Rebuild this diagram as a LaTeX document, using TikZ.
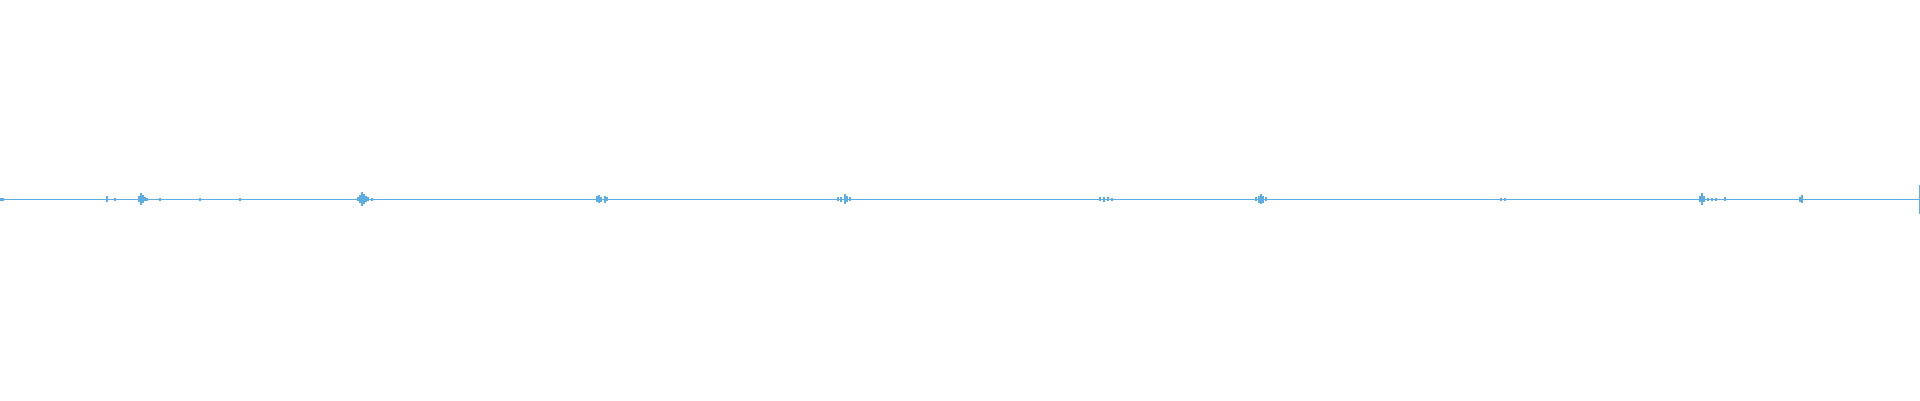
\documentclass[tikz,border=0pt]{standalone}
\definecolor{wave}{HTML}{5DADE2}
\begin{document}
\begin{tikzpicture}[x=1pt,y=-1pt,wv/.style={draw=wave,line width=1.1pt}]
\useasboundingbox (0,0) rectangle (1920,400);
\draw[wv,line width=1pt] (0,199) -- (1919,199);
\fill[wave] (0,197.5) rectangle (4,200.5);
% bursts: x / half height
\foreach \x/\h in {107/3, 115/1.5, 139/3, 141/6, 143/4, 145/2, 147/1.5, 160/1.5, 200/1.5, 240/1.5,
  358/2, 360/4, 362/7, 364/5, 366/3, 368/2, 372/1.5,
  597/3, 599/4, 601/2.5, 605/3.5, 607/2,
  838/2, 841/2.5, 845/5, 847/3, 850/2,
  1100/2, 1104/2.5, 1108/2, 1112/1.5,
  1256/2, 1259/3.5, 1261/5, 1263/3.5, 1266/2,
  1501/1.5, 1505/1.5,
  1700/3, 1702/6, 1704/3, 1708/1.5, 1712/1.5, 1716/1.5, 1725/2,
  1800/2.5, 1802/4}
  \draw[wv] (\x,199-\h) -- (\x,199+\h);
\draw[wave,line width=1pt] (1919,185) -- (1919,214);
\end{tikzpicture}
\end{document}
